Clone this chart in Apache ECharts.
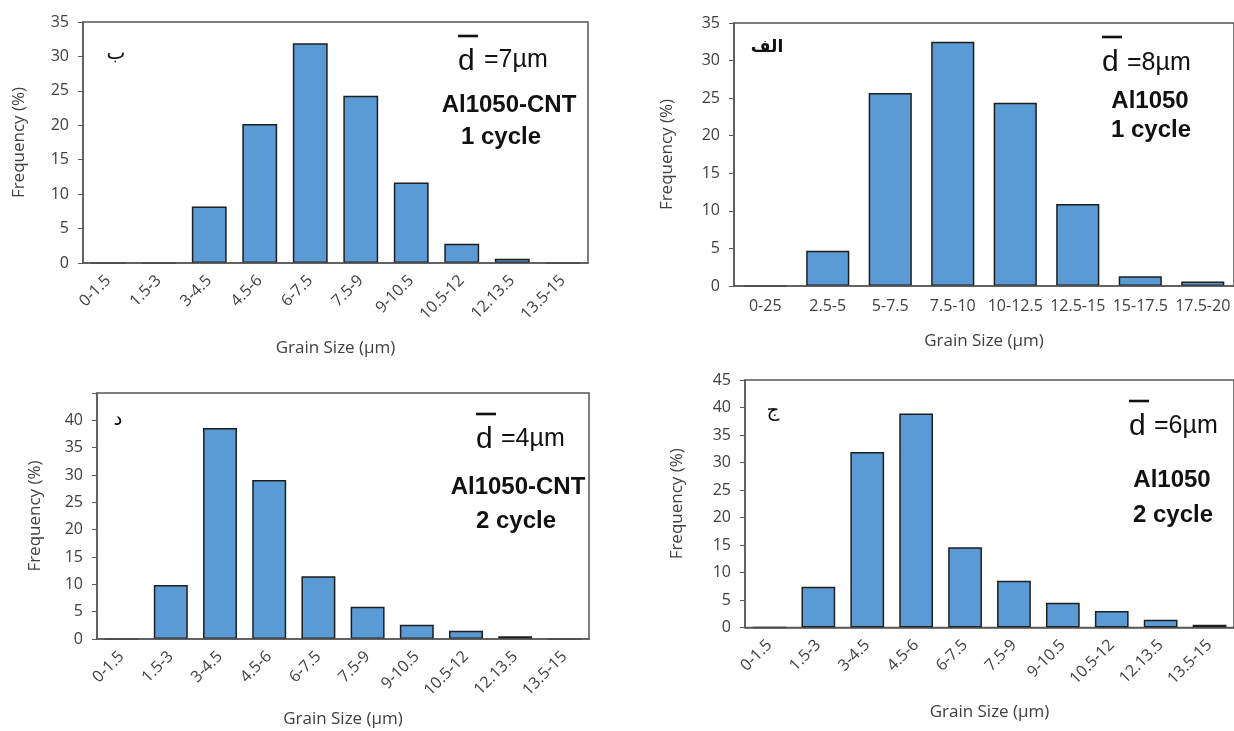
<!DOCTYPE html>
<html><head><meta charset="utf-8">
<script src="https://cdn.jsdelivr.net/npm/echarts@6/dist/echarts.min.js"></script>
<style>html,body{margin:0;padding:0;background:#fff}#c{width:1234px;height:731px}</style>
</head><body><div id="c"></div>
<script>
// categories
const catsA = ['0-1.5','1.5-3','3-4.5','4.5-6','6-7.5','7.5-9','9-10.5','10.5-12','12.13.5','13.5-15'];
const catsB = ['0-25','2.5-5','5-7.5','7.5-10','10-12.5','12.5-15','15-17.5','17.5-20'];
// values (frequency %)
const cnt1 = [0, 0, 8.2, 20.2, 31.9, 24.3, 11.7, 2.8, 0.6, 0];      // ب  Al1050-CNT 1 cycle
const al1  = [0, 4.7, 25.7, 32.5, 24.4, 10.9, 1.3, 0.6];            // الف Al1050 1 cycle
const cnt2 = [0, 9.9, 38.6, 29.1, 11.5, 5.9, 2.6, 1.5, 0.5, 0];     // د  Al1050-CNT 2 cycle
const al2  = [0, 7.4, 31.9, 38.9, 14.6, 8.5, 4.5, 3.0, 1.4, 0.5];   // ج  Al1050 2 cycle
const yMaxTop = 35, yMaxBottom = 45;

const chart = echarts.init(document.getElementById('c'), null, {renderer:'canvas'});
const axisColor = '#595959';
const txtColor = '#404040';
const tickFont = 'Open Sans';

const grids = [
  {left:83, top:22, width:505, height:241},
  {left:734, top:23, width:505, height:263},
  {left:97, top:393, width:492, height:246},
  {left:745, top:380, width:500, height:247.5}
].map(g => Object.assign({show:true, borderColor:'#555', borderWidth:1.5, backgroundColor:'transparent'}, g));

function xAx(i, cats, rotate, margin, gap){
  return {type:'category', gridIndex:i, data:cats, z:3,
    axisLine:{show:true, lineStyle:{color:axisColor, width:1.5}},
    axisTick:{show:false},
    axisLabel:{interval:0, rotate:rotate, margin:margin, color:txtColor, fontFamily:tickFont, fontSize:16},
    name:'Grain Size (µm)', nameLocation:'middle', nameGap:gap,
    nameTextStyle:{color:txtColor, fontFamily:tickFont, fontSize:17}};
}
function yAx(i, max, gap, hideMax){
  return {type:'value', gridIndex:i, min:0, max:max, interval:5, z:3,
    splitLine:{show:false},
    axisLine:{show:true, lineStyle:{color:axisColor, width:1.5}},
    axisTick:{show:true, length:5, lineStyle:{color:axisColor}},
    axisLabel:{color:txtColor, fontFamily:tickFont, fontSize:16, margin:14,
      formatter: v => (hideMax && v === max) ? '' : String(v)},
    name:'Frequency (%)', nameLocation:'middle', nameGap:gap,
    nameTextStyle:{color:txtColor, fontFamily:tickFont, fontSize:17}};
}
function bar(i, data){
  return {type:'bar', xAxisIndex:i, yAxisIndex:i, data:data, barCategoryGap:'31%', z:2,
    itemStyle:{color:'#5B9BD5', borderColor:'#1e1e1e', borderWidth:1.5}, silent:true};
}

function annot(o){
  const els = [];
  els.push({type:'text', x:o.dX, y:o.dC, style:{text:'d', font:'30px "Liberation Sans"', fill:'#111', textAlign:'left', textVerticalAlign:'middle'}});
  els.push({type:'line', shape:{x1:o.dX, y1:o.ovY, x2:o.dX+20, y2:o.ovY}, style:{stroke:'#111', lineWidth:2.6}});
  els.push({type:'text', x:o.eqX, y:o.eqC, style:{text:o.val, font:'25px "Liberation Sans"', fill:'#111', textAlign:'left', textVerticalAlign:'middle'}});
  o.lines.forEach(l => els.push({type:'text', x:l.x, y:l.y, style:{text:l.t, font:'bold 24px "Liberation Sans"', fill:'#111', textAlign:'center', textVerticalAlign:'middle'}}));
  els.push({type:'text', x:o.arX, y:o.arY, style:{text:o.ar, font:(o.arFont||'20px') + ' "DejaVu Sans"', fill:'#111', textAlign:'center', textVerticalAlign:'middle'}});
  return els;
}

const graphics = [].concat(
  annot({dX:458, dC:62, ovY:36, eqX:484, eqC:60, val:'=7µm', lines:[{t:'Al1050-CNT', x:509, y:105}, {t:'1 cycle', x:501, y:137}], ar:'ب', arX:116, arY:54}),
  annot({dX:1102, dC:63, ovY:37, eqX:1127, eqC:63, val:'=8µm', lines:[{t:'Al1050', x:1150, y:101}, {t:'1 cycle', x:1151, y:130}], ar:'الف', arX:767, arY:48, arFont:'bold 17px'}),
  annot({dX:476, dC:440, ovY:414, eqX:501, eqC:439, val:'=4µm', lines:[{t:'Al1050-CNT', x:518, y:487}, {t:'2 cycle', x:516, y:521}], ar:'د', arX:118, arY:420}),
  annot({dX:1129, dC:427, ovY:401, eqX:1154, eqC:426, val:'=6µm', lines:[{t:'Al1050', x:1172, y:480}, {t:'2 cycle', x:1173, y:515}], ar:'ج', arX:773, arY:411})
);

chart.setOption({
  animation:false,
  backgroundColor:'#fff',
  grid: grids,
  xAxis: [xAx(0, catsA, 45, 15, 77), xAx(1, catsB, 0, 12, 47), xAx(2, catsA, 45, 15, 72), xAx(3, catsA, 45, 15, 76)],
  yAxis: [yAx(0, yMaxTop, 55, false), yAx(1, yMaxTop, 58, false), yAx(2, yMaxBottom, 53, true), yAx(3, yMaxBottom, 59, false)],
  series: [bar(0, cnt1), bar(1, al1), bar(2, cnt2), bar(3, al2)],
  graphic: graphics
});
</script></body></html>
